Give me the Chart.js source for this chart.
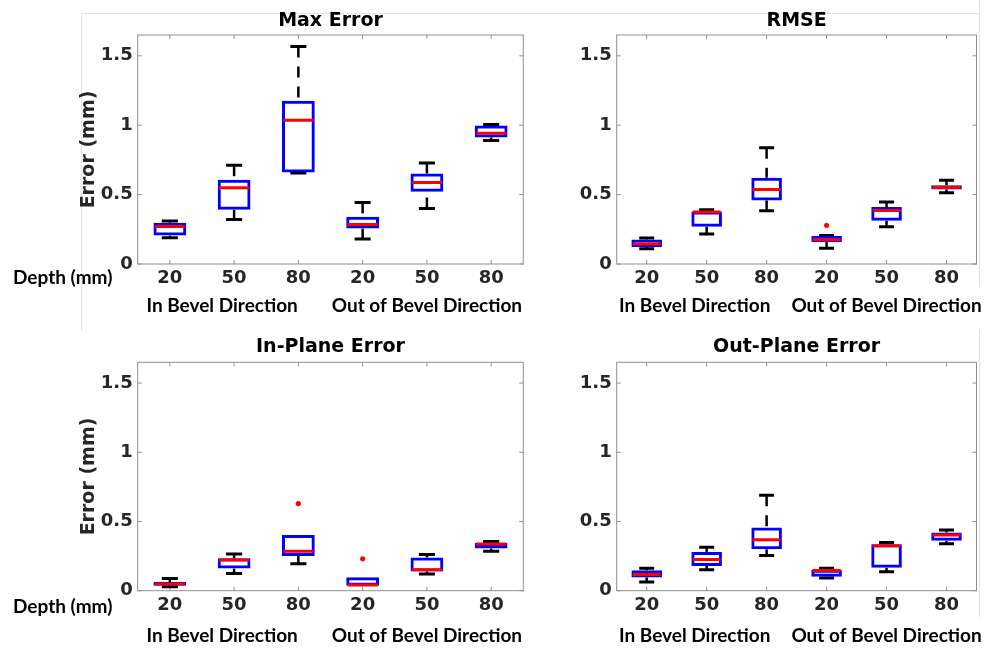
<!DOCTYPE html>
<html>
<head>
<meta charset="utf-8">
<script src="https://cdn.jsdelivr.net/npm/chart.js@4.4.1/dist/chart.umd.min.js"></script>
<style>
  body { margin: 0; background: #fff; }
  #page { position: relative; width: 994px; height: 648px; overflow: hidden; }
  .panel { position: absolute; }
  .rule { position: absolute; background: #e2e2e2; }
</style>
</head>
<body>
<div id="page">
  <div class="rule" style="left:81px;top:13px;width:899px;height:1px"></div>
  <div class="rule" style="left:81px;top:13px;width:1px;height:318px"></div>
  <div class="rule" style="left:979px;top:0;width:1px;height:287px"></div>
  <div class="rule" style="left:979px;top:330px;width:1px;height:287px"></div>
  <canvas id="maxChart" class="panel" width="560" height="325" style="left:0;top:0"></canvas>
  <canvas id="rmseChart" class="panel" width="434" height="325" style="left:560px;top:0"></canvas>
  <canvas id="inPlaneChart" class="panel" width="560" height="323" style="left:0;top:325px"></canvas>
  <canvas id="outPlaneChart" class="panel" width="434" height="323" style="left:560px;top:325px"></canvas>
</div>
<script>
// x categories (needle depth) and the two direction groups
const depthLabels = ['20', '50', '80', '20', '50', '80'];
const groupLabels = ['In Bevel Direction', 'Out of Bevel Direction'];

// Max Error
const maxLow  = [0.19, 0.32, 0.655, 0.18, 0.40, 0.89];
const maxQ1   = [0.205, 0.39, 0.66, 0.255, 0.52, 0.912];
const maxMed  = [0.27, 0.55, 1.035, 0.285, 0.588, 0.942];
const maxQ3   = [0.298, 0.607, 1.177, 0.34, 0.652, 0.998];
const maxHigh = [0.31, 0.712, 1.568, 0.444, 0.728, 1.006];
const maxOut  = [null, null, null, null, null, null];

// RMSE
const rmseLow  = [0.11, 0.216, 0.384, 0.113, 0.269, 0.513];
const rmseQ1   = [0.122, 0.269, 0.458, 0.158, 0.312, 0.537];
const rmseMed  = [0.144, 0.374, 0.537, 0.175, 0.386, 0.552];
const rmseQ3   = [0.177, 0.379, 0.621, 0.204, 0.41, 0.568];
const rmseHigh = [0.187, 0.391, 0.837, 0.205, 0.446, 0.604];
const rmseOut  = [null, null, null, 0.278, null, null];

// In-Plane Error
const inLow  = [0.029, 0.124, 0.194, 0.036, 0.121, 0.285];
const inQ1   = [0.036, 0.160, 0.251, 0.036, 0.139, 0.305];
const inMed  = [0.048, 0.222, 0.285, 0.041, 0.151, 0.337];
const inQ3   = [0.062, 0.234, 0.402, 0.098, 0.24, 0.345];
const inHigh = [0.089, 0.266, 0.402, 0.098, 0.262, 0.356];
const inOut  = [null, null, 0.629, 0.230, null, null];

// Out-Plane Error
const outLow  = [0.062, 0.151, 0.254, 0.091, 0.136, 0.340];
const outQ1   = [0.096, 0.179, 0.299, 0.100, 0.165, 0.361];
const outMed  = [0.117, 0.225, 0.368, 0.146, 0.325, 0.402];
const outQ3   = [0.148, 0.280, 0.457, 0.151, 0.335, 0.421];
const outHigh = [0.163, 0.313, 0.689, 0.163, 0.349, 0.438];
const outOut  = [null, null, null, null, null, null];

Chart.defaults.font.family = 'DejaVu Sans';
Chart.defaults.animation = false;

const tickFont = { family: 'DejaVu Sans', size: 18, weight: 'bold' };
const labelFont = 'bold 19px Lato';

function boxChart(id, title, s, opt) {
  const n = depthLabels.length;
  const slot = c => (c.chart.chartArea ? c.chart.chartArea.width / n : 62);
  // a cap that sits on the box edge is hidden under the box in the original
  const capHigh = c => (s.high[c.dataIndex] > s.q3[c.dataIndex] ? slot(c) / 8 : 0);
  const capLow = c => (s.low[c.dataIndex] < s.q1[c.dataIndex] ? slot(c) / 8 : 0);

  return new Chart(document.getElementById(id), {
    type: 'bar',
    data: {
      labels: depthLabels,
      datasets: [
        {
          type: 'line',
          data: s.med,
          showLine: false,
          pointStyle: 'line',
          pointRadius: c => slot(c) / 4 - 1,
          pointBorderColor: '#ff0000',
          pointBorderWidth: 3,
          order: 0
        },
        {
          type: 'line',
          data: s.out,
          showLine: false,
          pointStyle: 'circle',
          pointRadius: 2.2,
          pointBackgroundColor: '#ff0000',
          pointBorderColor: '#ff0000',
          pointBorderWidth: 1,
          order: 0
        },
        {
          data: s.q1.map((v, i) => [v, s.q3[i]]),
          backgroundColor: 'rgba(255,255,255,0)',
          borderColor: '#0000ff',
          borderWidth: 3,
          borderSkipped: false,
          inflateAmount: 0,
          barPercentage: 0.51,
          categoryPercentage: 1,
          order: 1
        },
        {
          type: 'line',
          data: s.high,
          showLine: false,
          pointStyle: 'line',
          pointRadius: capHigh,
          pointBorderColor: '#000',
          pointBorderWidth: 3,
          order: 2
        },
        {
          type: 'line',
          data: s.low,
          showLine: false,
          pointStyle: 'line',
          pointRadius: capLow,
          pointBorderColor: '#000',
          pointBorderWidth: 3,
          order: 2
        }
      ]
    },
    options: {
      responsive: false,
      events: [],
      layout: { padding: { left: opt.padLeft, right: opt.padRight, top: 0, bottom: 0 } },
      scales: {
        x: {
          grid: { display: false, drawTicks: false },
          border: { display: false },
          ticks: { font: tickFont, color: '#262626', padding: 4, autoSkip: false, maxRotation: 0 },
          afterFit: sc => { sc.height = opt.xHeight; }
        },
        y: {
          min: 0,
          max: 1.65,
          grid: { display: false, drawTicks: false },
          border: { display: false },
          ticks: {
            stepSize: 0.5,
            includeBounds: false,
            font: tickFont,
            color: '#262626',
            padding: 5,
            callback: v => String(+v.toFixed(2))
          },
          title: {
            display: opt.left,
            text: 'Error (mm)',
            font: { family: 'DejaVu Sans', size: 19, weight: 'bold' },
            color: '#262626',
            padding: 0
          },
          afterFit: sc => { sc.width = opt.yWidth; }
        }
      },
      plugins: {
        legend: { display: false },
        tooltip: { enabled: false },
        title: {
          display: true,
          text: title,
          fullSize: false,
          color: '#000',
          font: { family: 'DejaVu Sans', size: 19, weight: 'bold' },
          padding: opt.titlePad
        }
      }
    },
    plugins: [{
      id: 'boxExtras',
      beforeDatasetsDraw(chart) {
        const { ctx, chartArea: a, scales: { x, y } } = chart;
        const seg = (x1, y1, x2, y2) => {
          ctx.beginPath(); ctx.moveTo(x1, y1); ctx.lineTo(x2, y2); ctx.stroke();
        };
        ctx.save();
        // axes box with inward ticks
        ctx.strokeStyle = '#8f8f8f';
        ctx.lineWidth = 1;
        ctx.strokeRect(a.left, a.top, a.width, a.height);
        y.ticks.forEach(t => {
          const py = y.getPixelForValue(t.value);
          seg(a.left, py, a.left + 4, py);
          seg(a.right - 4, py, a.right, py);
        });
        x.ticks.forEach((t, i) => {
          const px = x.getPixelForTick(i);
          seg(px, a.top, px, a.top + 4);
          seg(px, a.bottom - 4, px, a.bottom);
        });
        // dashed whiskers
        ctx.strokeStyle = '#000';
        ctx.lineWidth = 2.5;
        ctx.setLineDash([11, 9]);
        s.q3.forEach((q3, i) => {
          const px = x.getPixelForValue(i);
          if (s.high[i] > q3) seg(px, y.getPixelForValue(s.high[i]), px, y.getPixelForValue(q3));
          if (s.low[i] < s.q1[i]) seg(px, y.getPixelForValue(s.low[i]), px, y.getPixelForValue(s.q1[i]));
        });
        ctx.restore();
      },
      afterDraw(chart) {
        const { ctx, chartArea: a, scales: { x } } = chart;
        ctx.save();
        ctx.font = labelFont;
        ctx.fillStyle = '#000';
        ctx.textBaseline = 'middle';
        ctx.textAlign = 'center';
        groupLabels.forEach((g, k) => {
          const px = x.getPixelForValue(k * 3 + 1) + (k === 0 ? -12 : 0);
          ctx.fillText(g, px, a.bottom + opt.groupGap);
        });
        if (opt.left) {
          ctx.textAlign = 'left';
          ctx.fillText('Depth (mm)', 13, a.bottom + opt.depthGap);
        }
        ctx.restore();
      }
    }]
  });
}

const topRow = { xHeight: 61, titlePad: { top: 10, bottom: 2.2 }, groupGap: 42, depthGap: 14 };
const bottomRow = { xHeight: 57.3, titlePad: { top: 11, bottom: 3.5 }, groupGap: 45.5, depthGap: 16 };
const leftCol = { left: true, padLeft: 78, padRight: 36.7, yWidth: 59.7 };
const rightCol = { left: false, padLeft: 0, padRight: 14, yWidth: 56.7 };

boxChart('maxChart', 'Max Error',
  { low: maxLow, q1: maxQ1, med: maxMed, q3: maxQ3, high: maxHigh, out: maxOut },
  Object.assign({}, topRow, leftCol));
boxChart('rmseChart', 'RMSE',
  { low: rmseLow, q1: rmseQ1, med: rmseMed, q3: rmseQ3, high: rmseHigh, out: rmseOut },
  Object.assign({}, topRow, rightCol));
boxChart('inPlaneChart', 'In-Plane Error',
  { low: inLow, q1: inQ1, med: inMed, q3: inQ3, high: inHigh, out: inOut },
  Object.assign({}, bottomRow, leftCol));
boxChart('outPlaneChart', 'Out-Plane Error',
  { low: outLow, q1: outQ1, med: outMed, q3: outQ3, high: outHigh, out: outOut },
  Object.assign({}, bottomRow, rightCol));
</script>
</body>
</html>
